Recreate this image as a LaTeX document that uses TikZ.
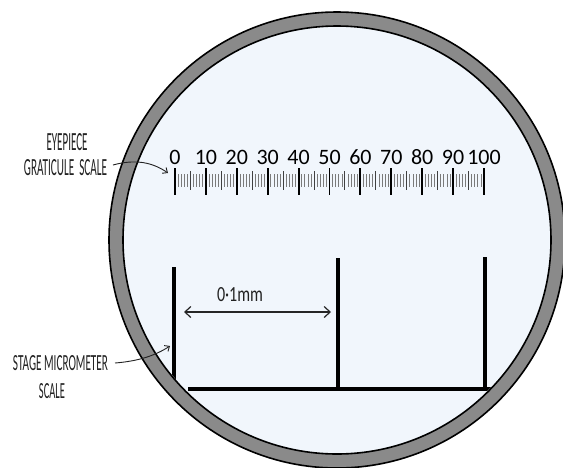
\documentclass[tikz,border=0pt]{standalone}
\usepackage{fontspec}
\setmainfont{Carlito}
\newfontfamily\carl{Carlito}
\usetikzlibrary{arrows.meta}
\definecolor{ringgray}{HTML}{8A8A8A}
\definecolor{fieldblue}{HTML}{F1F6FC}
\definecolor{minorgray}{HTML}{7A7A7A}
\definecolor{inkgray}{HTML}{222222}
\newcommand{\fitlbl}[3]{\resizebox{#1}{#2}{\carl #3}}
\tikzset{
  ringedge/.style={draw=black, line width=1.6pt},
  majortick/.style={line width=1.9pt, black},
  minortick/.style={line width=0.7pt, minorgray},
  midtick/.style={line width=1.0pt, black!75},
  stagebar/.style={line width=3.6pt, black},
  numlbl/.style={font=\carl\fontsize{22}{22}\selectfont, inner sep=0pt, text=black},
  sidelbl/.style={inner sep=0pt, text=inkgray},
  callout/.style={line width=0.9pt, inkgray, -{Straight Barb[length=4pt,width=7pt]}},
  dimarrow/.style={line width=1.2pt, black!85, {Straight Barb[length=6pt,width=11pt]}-{Straight Barb[length=6pt,width=11pt]}}
}
\begin{document}
\begin{tikzpicture}[x={(1pt,0)}, y={(0,-1pt)}]
\useasboundingbox (0,0) rectangle (563,467);
\fill[white] (0,0) rectangle (563,467);
\coordinate (c) at (337,240);
% field of view and ring
\fill[ringgray, even odd rule] (c) circle[radius=228] (c) circle[radius=214];
\fill[fieldblue] (c) circle[radius=214];
\draw[ringedge] (c) circle[radius=228];
\draw[ringedge] (c) circle[radius=214];
% eyepiece graticule
\foreach \i in {0,...,10}{
  \pgfmathsetmacro{\xx}{175+30.9*\i}
  \draw[majortick] (\xx,168) -- (\xx,195);
  \pgfmathtruncatemacro{\v}{10*\i}
  \node[numlbl] (n\i) at (\xx,157) {\v};
}
\foreach \i in {0,...,9}{
  \foreach \j in {1,...,9}{
    \pgfmathsetmacro{\xx}{175+30.9*\i+3.09*\j}
    \ifnum\j=5
      \draw[midtick] (\xx,171) -- (\xx,190);
    \else
      \draw[minortick] (\xx,174) -- (\xx,187);
    \fi
  }
}
\coordinate (grat) at (168,173);
% stage micrometer
\begin{scope}
  \clip (c) circle[radius=213];
  \coordinate (sA) at (174,267);
  \coordinate (sB) at (338,258);
  \coordinate (sC) at (485,257);
  \draw[stagebar] (sA) -- (174,395);
  \draw[stagebar] (sB) -- (338,389);
  \draw[stagebar] (sC) -- (485,389);
  \draw[stagebar] (188,389) -- (520,389);
\end{scope}
\coordinate (dL) at (184,312);
\coordinate (dR) at (331,312);
\draw[dimarrow] (dL) -- (dR);
\node[sidelbl, anchor=base] (mm) at (240,301) {\resizebox{46pt}{14pt}{\carl 0·1mm}};
% side labels
\node[sidelbl, anchor=base] (eye) at (67,150) {\fitlbl{41pt}{17pt}{EYEPIECE}};
\node[sidelbl, anchor=base] (grs) at (65.5,175) {\fitlbl{83pt}{16pt}{GRATICULE\ \ SCALE}};
\node[sidelbl, anchor=base] (stg) at (60.5,370) {\fitlbl{95pt}{15pt}{STAGE MICROMETER}};
\node[sidelbl, anchor=base] (scl) at (52,398) {\fitlbl{26pt}{15pt}{SCALE}};
\coordinate (ga) at (113,165);
\coordinate (sa) at (115,363);
\coordinate (stgtip) at (170,346);
\draw[callout] (ga) .. controls (135,159) and (152,162) .. (grat);
\draw[callout] (sa) .. controls (140,361) and (156,355) .. (stgtip);
\end{tikzpicture}
\end{document}
